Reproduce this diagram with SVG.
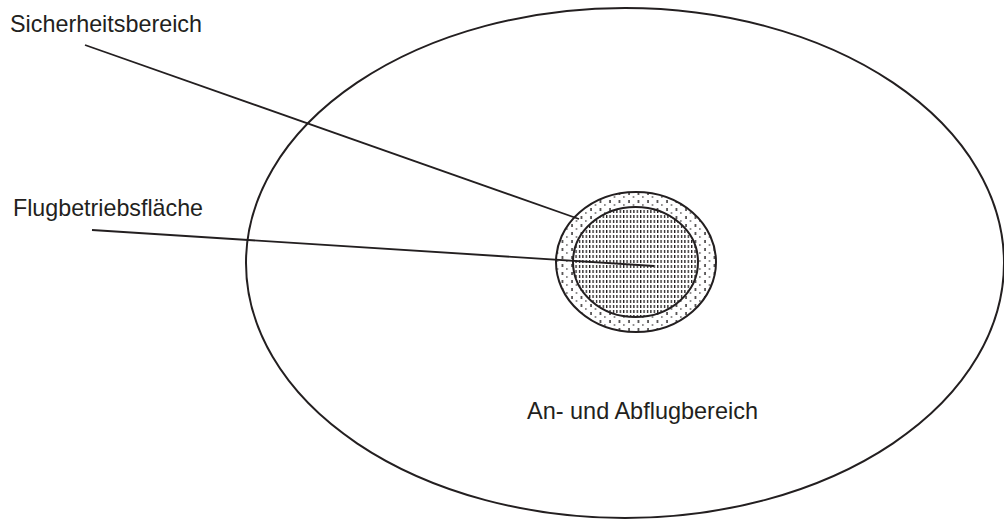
<svg xmlns="http://www.w3.org/2000/svg" width="1004" height="519" viewBox="0 0 1004 519">
<style>
.t{font-family:"Liberation Sans",Arial,sans-serif;font-size:24px;fill:#231f20}
.o{fill:none;stroke:#231f20;stroke-width:2}
.c{stroke:#231f20;stroke-width:1.8;fill:none}
</style>
<defs>
<pattern id="sparse" patternUnits="userSpaceOnUse" width="9.5" height="16">
<line x1="2" y1="0" x2="2" y2="16" stroke="#231f20" stroke-width="1.4" stroke-dasharray="3 5"/>
<line x1="6.5" y1="4" x2="6.5" y2="20" stroke="#231f20" stroke-width="0.9" stroke-dasharray="2 6"/>
</pattern>
<pattern id="dense" patternUnits="userSpaceOnUse" width="3.4" height="5">
<line x1="1.5" y1="0" x2="1.5" y2="5" stroke="#231f20" stroke-width="1.3" stroke-dasharray="3 2"/>
</pattern>
</defs>
<g id="anflug">
<ellipse class="o" cx="625" cy="263" rx="379" ry="255"/>
<text class="t" x="527" y="419" textLength="231" lengthAdjust="spacingAndGlyphs">An- und Abflugbereich</text>
</g>
<g id="sicherheitsbereich">
<ellipse cx="636" cy="262" rx="80" ry="70" fill="url(#sparse)" stroke="#231f20" stroke-width="2"/>
<text class="t" x="10" y="32" textLength="192" lengthAdjust="spacingAndGlyphs">Sicherheitsbereich</text>
</g>
<g id="flugbetriebsflaeche">
<ellipse cx="635.5" cy="262" rx="62.5" ry="55" fill="#fff" stroke="none"/>
<ellipse cx="635.5" cy="262" rx="62.5" ry="55" fill="url(#dense)" stroke="#231f20" stroke-width="2"/>
<text class="t" x="13" y="216" textLength="190" lengthAdjust="spacingAndGlyphs">Flugbetriebsfläche</text>
</g>
<g id="connectors">
<line class="c" x1="85" y1="45" x2="579" y2="219"/>
<line class="c" x1="92" y1="230" x2="654" y2="266"/>
</g>
</svg>
